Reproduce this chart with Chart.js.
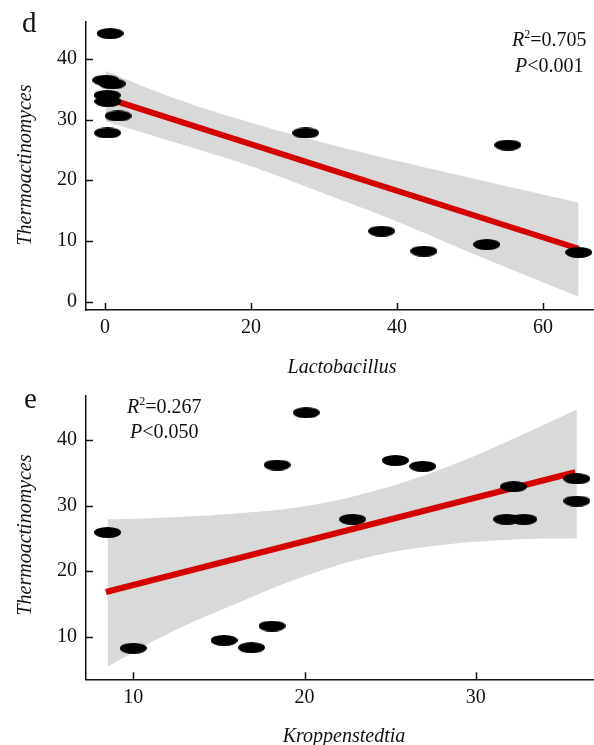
<!DOCTYPE html>
<html><head><meta charset="utf-8">
<script src="https://cdn.jsdelivr.net/npm/chart.js@4"></script>
<style>
body{margin:0;background:#fff;width:594px;height:745px;overflow:hidden;position:relative;}
.c{position:absolute;left:0;}
.t{position:absolute;color:#111;white-space:nowrap;font-family:"Liberation Serif","DejaVu Serif",serif;line-height:1;}
.i{font-style:italic;}
</style></head><body>
<div class="c" style="top:0;width:594px;height:380px"><canvas id="c1" width="594" height="380"></canvas></div>
<div class="c" style="top:375px;width:594px;height:370px"><canvas id="c2" width="594" height="370"></canvas></div>

<div class="t" style="left:22px;top:8px;font-size:29px">d</div>
<div class="t" style="left:24px;top:384px;font-size:29px">e</div>
<div class="t" style="left:512px;top:28px;font-size:20px"><span class="i">R</span><sup style="font-size:12px;vertical-align:8px">2</sup>=0.705</div>
<div class="t" style="left:515px;top:55px;font-size:20px"><span class="i">P</span>&lt;0.001</div>
<div class="t" style="left:127px;top:395px;font-size:20px"><span class="i">R</span><sup style="font-size:12px;vertical-align:8px">2</sup>=0.267</div>
<div class="t" style="left:130px;top:421px;font-size:20px"><span class="i">P</span>&lt;0.050</div>
<div class="t i" style="left:24px;top:165px;font-size:20px;transform:translate(-50%,-50%) rotate(-90deg)">Thermoactinomyces</div>
<div class="t i" style="left:24px;top:535px;font-size:20px;transform:translate(-50%,-50%) rotate(-90deg)">Thermoactinomyces</div>
<div class="t i" style="left:342px;top:366px;font-size:20px;transform:translate(-50%,-50%)">Lactobacillus</div>
<div class="t i" style="left:344px;top:735px;font-size:20px;transform:translate(-50%,-50%)">Kroppenstedtia</div>

<script>
// ---- Panel d : Lactobacillus vs Thermoactinomyces ----
const D_X = [0.7, 0.1, 1.0, 0.3, 0.4, 1.8, 0.35, 27.5, 55.2, 37.9, 43.7, 52.3, 64.9];
const D_Y = [44.2, 36.5, 35.9, 34.0, 33.0, 30.6, 27.8, 27.8, 25.8, 11.6, 8.3, 9.4, 8.1];
const D_FIT_X = [0.1, 64.9];
const D_FIT_Y = [33.6, 8.7];
const D_BAND_X = [0.1, 10, 20, 30, 40, 50, 64.9];
const D_BAND_UP = [38.0, 33.3, 29.5, 26.2, 23.2, 20.4, 16.3];
const D_BAND_LO = [29.7, 26.1, 22.3, 17.8, 13.2, 8.1, 0.8];
const D_XTICKS = [0, 20, 40, 60];
const D_YTICKS = [0, 10, 20, 30, 40];

// ---- Panel e : Kroppenstedtia vs Thermoactinomyces ----
const E_X = [8.5, 20.1, 18.4, 25.3, 26.9, 22.8, 32.2, 35.9, 35.9, 31.8, 32.8, 10.0, 15.3, 16.9, 18.1];
const E_Y = [25.9, 44.2, 36.2, 36.9, 36.0, 27.9, 32.9, 34.1, 30.7, 27.9, 27.9, 8.2, 9.4, 8.3, 11.6];
const E_FIT_X = [8.4, 35.8];
const E_FIT_Y = [16.8, 35.1];
const E_BAND_X = [8.5, 12, 16, 20, 24, 28, 32, 35.9];
const E_BAND_UP = [27.9, 28.2, 28.8, 29.9, 32.2, 35.6, 40.0, 44.7];
const E_BAND_LO = [5.4, 10.4, 15.0, 19.2, 22.3, 24.0, 24.8, 25.0];
const E_XTICKS = [10, 20, 30];
const E_YTICKS = [10, 20, 30, 40];

function ellipse(w, h) {
  const c = document.createElement('canvas');
  c.width = w; c.height = h;
  const g = c.getContext('2d');
  g.fillStyle = '#000';
  g.beginPath(); g.ellipse(w/2, h/2, w/2, h/2, 0, 0, Math.PI*2); g.fill();
  return c;
}
const DOT = ellipse(27, 11);
const zip = (xs, ys) => xs.map((x, i) => ({x, y: ys[i]}));

const inTicks = {
  id: 'inTicks',
  afterDatasetsDraw(chart) {
    const ctx = chart.ctx, a = chart.chartArea, sx = chart.scales.x, sy = chart.scales.y;
    ctx.save(); ctx.strokeStyle = '#111'; ctx.lineWidth = 1.5; ctx.beginPath();
    sx.ticks.forEach(t => { const p = Math.round(sx.getPixelForValue(t.value)) + 0.5; ctx.moveTo(p, a.bottom); ctx.lineTo(p, a.bottom - 7); });
    sy.ticks.forEach(t => { const p = Math.round(sy.getPixelForValue(t.value)) + 0.5; ctx.moveTo(a.left, p); ctx.lineTo(a.left + 7, p); });
    ctx.stroke(); ctx.restore();
  }
};

function make(id, cfg) {
  const tickFont = {family: 'Liberation Serif', size: 20};
  new Chart(document.getElementById(id), {
    type: 'scatter',
    data: { datasets: [
      { type: 'line', data: zip(cfg.bx, cfg.bu), borderWidth: 0, pointRadius: 0, fill: 1, backgroundColor: '#d9d9d9', tension: 0.4, order: 3 },
      { type: 'line', data: zip(cfg.bx, cfg.bl), borderWidth: 0, pointRadius: 0, fill: false, tension: 0.4, order: 3 },
      { type: 'line', data: zip(cfg.fx, cfg.fy), borderColor: '#d40000', borderWidth: 6, pointRadius: 0, fill: false, order: 2 },
      { type: 'scatter', data: zip(cfg.x, cfg.y), pointStyle: DOT, pointRadius: 5, backgroundColor: '#000', order: 1 }
    ]},
    options: {
      responsive: false, animation: false,
      layout: { padding: { top: cfg.top, left: 0, right: 0, bottom: 0 }, autoPadding: false },
      plugins: { legend: { display: false }, tooltip: { enabled: false } },
      scales: {
        x: { type: 'linear', position: 'bottom', min: cfg.xmin, max: cfg.xmax,
             grid: { display: false, drawTicks: false },
             border: { display: true, color: '#111', width: 1.5 },
             ticks: { font: tickFont, color: '#111', padding: 6, maxRotation: 0 },
             afterBuildTicks: s => { s.ticks = cfg.xt.map(v => ({value: v})); },
             afterFit: s => { s.height = cfg.xh; } },
        y: { type: 'linear', min: cfg.ymin, max: cfg.ymax,
             grid: { display: false, drawTicks: false },
             border: { display: true, color: '#111', width: 1.5 },
             ticks: { font: tickFont, color: '#111', padding: 9 },
             afterBuildTicks: s => { s.ticks = cfg.yt.map(v => ({value: v})); },
             afterFit: s => { s.width = 86; } }
      }
    },
    plugins: [inTicks]
  });
}

make('c1', { x: D_X, y: D_Y, fx: D_FIT_X, fy: D_FIT_Y, bx: D_BAND_X, bu: D_BAND_UP, bl: D_BAND_LO,
  xt: D_XTICKS, yt: D_YTICKS, xmin: -2.6, xmax: 67.0, ymin: -1.4, ymax: 46.1, top: 22, xh: 70 });
make('c2', { x: E_X, y: E_Y, fx: E_FIT_X, fy: E_FIT_Y, bx: E_BAND_X, bu: E_BAND_UP, bl: E_BAND_LO,
  xt: E_XTICKS, yt: E_YTICKS, xmin: 7.24, xmax: 36.9, ymin: 3.46, ymax: 46.75, top: 18, xh: 65.7 });
</script>
</body></html>
